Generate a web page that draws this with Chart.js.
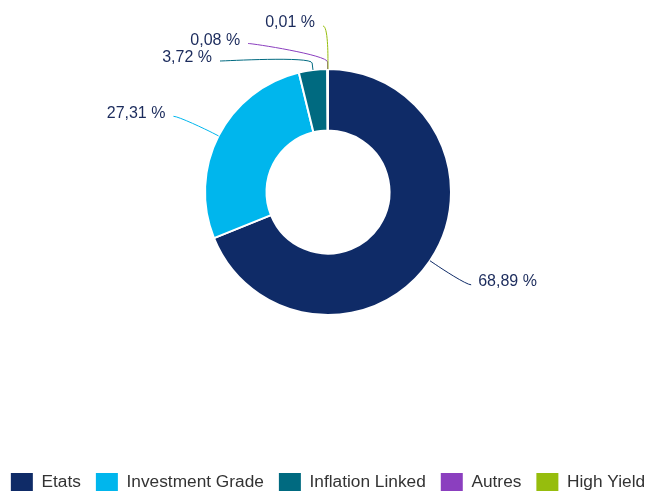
<!DOCTYPE html>
<html>
<head>
<meta charset="utf-8">
<script src="https://cdn.jsdelivr.net/npm/chart.js@4"></script>
<style>
  html, body { margin: 0; padding: 0; background: #ffffff; }
  #wrap { width: 646px; height: 492px; }
</style>
</head>
<body>
<div id="wrap"><canvas id="c" width="646" height="492"></canvas></div>
<script>
// ---- data ----
const categories = ['Etats', 'Investment Grade', 'Inflation Linked', 'Autres', 'High Yield'];
const values = [68.89, 27.31, 3.72, 0.08, 0.01];
const colors = ['#0f2b67', '#00b6ed', '#006a80', '#8b3fbf', '#96bd0d'];

const FONT = '"Liberation Sans", Arial, Helvetica, sans-serif';
const LABEL_COLOR = '#1b2b5c';

function fmt(v) { return v.toFixed(2).replace('.', ',') + ' %'; }

// keep the pie area offset from the left edge (legend uses wider full-size box)
const plotArea = {
  id: 'plotArea',
  afterLayout(chart) {
    chart.chartArea.left = 10;
    chart.chartArea.right = 646;
    chart.chartArea.width = chart.chartArea.right - chart.chartArea.left;
  }
};

// Highcharts-like outside labels with soft connectors
const outsideLabels = {
  id: 'outsideLabels',
  afterDatasetsDraw(chart) {
    const meta = chart.getDatasetMeta(0);
    const ctx = chart.ctx;
    const ry = 166, rx = 169, spacing = 17.5, minY = 26, breakOff = 7;
    const items = [];
    meta.data.forEach((arc, i) => {
      const p = arc.getProps(['x', 'y', 'startAngle', 'endAngle', 'outerRadius'], true);
      const a = (p.startAngle + p.endAngle) / 2;
      const cos = Math.cos(a), sin = Math.sin(a);
      items.push({
        i, cx: p.x, cy: p.y, cos, sin,
        side: cos >= 0 ? 1 : -1,
        tx: p.x + p.outerRadius * cos, ty: p.y + p.outerRadius * sin,
        bx: p.x + (p.outerRadius + breakOff) * cos, by: p.y + (p.outerRadius + breakOff) * sin,
        ny: p.y + ry * sin
      });
    });
    [1, -1].forEach(side => {
      const list = items.filter(it => it.side === side).sort((a, b) => a.ny - b.ny);
      let groups = list.map(it => ({ items: [it], sum: it.ny }));
      const place = g => {
        const n = g.items.length;
        g.top = Math.max(g.sum / n - (n - 1) * spacing / 2, minY);
      };
      let changed = true;
      while (changed) {
        changed = false;
        groups.forEach(place);
        for (let k = 0; k < groups.length - 1; k++) {
          const A = groups[k], B = groups[k + 1];
          const aBottom = A.top + (A.items.length - 1) * spacing;
          if (B.top - aBottom < spacing) {
            A.items = A.items.concat(B.items);
            A.sum += B.sum;
            groups.splice(k + 1, 1);
            changed = true;
            break;
          }
        }
      }
      groups.forEach(g => g.items.forEach((it, k) => { it.ly = g.top + k * spacing; }));
    });
    ctx.save();
    items.forEach(it => {
      const textY = it.ly - 3;
      const dy = textY - it.cy;
      const off = Math.sqrt(Math.max(rx * rx - dy * dy, 0));
      const lx = it.side > 0 ? it.cx + off : it.cx - off - 5;
      const ly = it.ly;
      ctx.beginPath();
      ctx.strokeStyle = colors[it.i];
      ctx.lineWidth = 1;
      ctx.moveTo(lx, ly);
      ctx.bezierCurveTo(lx + (it.side > 0 ? -5 : 5), ly,
        2 * it.bx - it.tx, 2 * it.by - it.ty,
        it.bx, it.by);
      ctx.lineTo(it.tx, it.ty);
      ctx.stroke();
      ctx.font = '16px ' + FONT;
      ctx.fillStyle = LABEL_COLOR;
      ctx.textBaseline = 'middle';
      if (it.side > 0) {
        ctx.textAlign = 'left';
        ctx.fillText(fmt(values[it.i]), lx + 7, textY);
      } else {
        ctx.textAlign = 'right';
        ctx.fillText(fmt(values[it.i]), lx - 8, textY);
      }
    });
    ctx.restore();
  }
};

Chart.defaults.font.family = FONT;

new Chart(document.getElementById('c'), {
  type: 'doughnut',
  data: {
    labels: categories,
    datasets: [{
      data: values,
      backgroundColor: colors,
      borderColor: '#ffffff',
      borderWidth: 2,
      radius: 123,
      cutout: '50%'
    }]
  },
  options: {
    responsive: false,
    animation: false,
    events: [],
    layout: { padding: { left: -20, right: -30, top: 0, bottom: -9 } },
    plugins: {
      tooltip: { enabled: false },
      legend: {
        position: 'bottom',
        title: { display: true, text: ' ', font: { size: 10, lineHeight: 1 }, padding: { top: 0, bottom: 64 } },
        labels: {
          boxWidth: 22,
          boxHeight: 18,
          padding: 15,
          color: '#333333',
          font: { size: 17.3, family: FONT },
          generateLabels(chart) {
            const base = Chart.overrides.doughnut.plugins.legend.labels.generateLabels(chart);
            return base.map(l => Object.assign(l, { lineWidth: 0, strokeStyle: 'rgba(0,0,0,0)' }));
          }
        }
      }
    }
  },
  plugins: [plotArea, outsideLabels]
});
</script>
</body>
</html>
